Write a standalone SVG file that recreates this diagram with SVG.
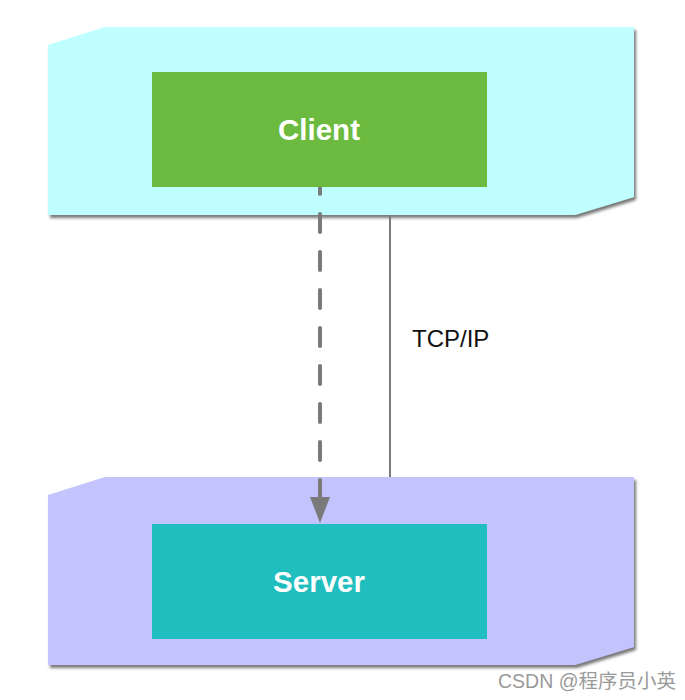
<svg xmlns="http://www.w3.org/2000/svg" width="685" height="700" viewBox="0 0 685 700">
  <defs>
    <filter id="shadow" x="-5%" y="-5%" width="115%" height="120%">
      <feDropShadow dx="2" dy="3" stdDeviation="1.5" flood-color="#4a4a4a" flood-opacity="0.75"/>
    </filter>
    <style>
      .zone { stroke: none; filter: url(#shadow); }
      .label { font-family: "Liberation Sans", Arial, sans-serif; font-weight: bold; font-size: 29.5px; fill: #ffffff; text-anchor: middle; }
      .link { stroke: #7a7a7a; fill: none; }
      .note { font-family: "Liberation Sans", Arial, sans-serif; font-size: 24px; fill: #111111; }
      .mark { font-family: "Liberation Sans", Arial, "Noto Sans CJK SC", sans-serif; font-size: 19.5px; fill: #9a9a9a; }
    </style>
  </defs>

  <rect width="685" height="700" fill="#ffffff"/>

  <!-- client tier -->
  <g id="client-tier">
    <path class="zone" d="M48,45 L105,27 L634,27 L634,197 L575,215 L48,215 Z" fill="#bfffff"/>
  </g>

  <!-- server tier -->
  <g id="server-tier">
    <path class="zone" d="M48,495 L105,477 L634,477 L634,647 L575,665 L48,665 Z" fill="#c3c3fd"/>
  </g>

  <!-- connectors -->
  <g id="connectors">
    <line class="link" x1="320" y1="138" x2="320" y2="497" stroke-width="4" stroke-dasharray="18 20" stroke-linecap="round"/>
    <path d="M310,497 L330,497 L320,523 Z" fill="#7a7a7a"/>
    <line class="link" x1="390" y1="215" x2="390" y2="477" stroke-width="2"/>
    <text class="note" x="412" y="347">TCP/IP</text>
  </g>

  <g id="client">
    <rect x="152" y="72" width="335" height="115" fill="#6cbb40"/>
    <text class="label" x="319" y="140">Client</text>
  </g>

  <g id="server">
    <rect x="152" y="524" width="335" height="115" fill="#20bebe"/>
    <text class="label" x="319" y="592">Server</text>
  </g>

  <text class="mark" x="498" y="688">CSDN @程序员小英</text>
</svg>
